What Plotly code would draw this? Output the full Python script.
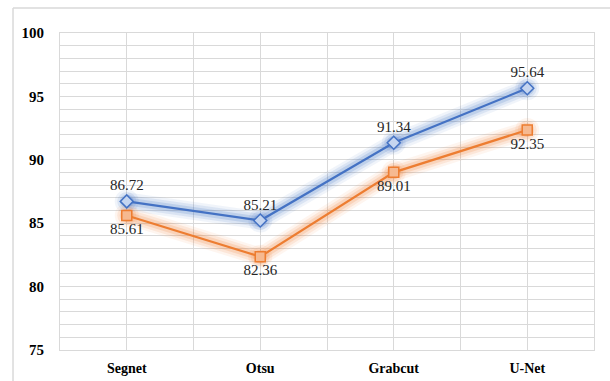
import plotly.graph_objects as go

methods = ["Segnet", "Otsu", "Grabcut", "U-Net"]
series_a = [86.72, 85.21, 91.34, 95.64]
series_b = [85.61, 82.36, 89.01, 92.35]
y_ticks = [75, 80, 85, 90, 95, 100]

xpos = list(range(len(methods)))
serif = "'Times New Roman', 'Liberation Serif', 'DejaVu Serif', serif"

blue = "#4472C4"
orange = "#ED7D31"

fig = go.Figure()

# soft glow underneath each line
for vals, rgb in ((series_a, "68,114,196"), (series_b, "237,125,49")):
    for w, a in ((18, 0.08), (13, 0.12), (8, 0.18)):
        fig.add_trace(go.Scatter(
            x=xpos, y=vals, mode="lines+markers",
            line=dict(color=f"rgba({rgb},{a})", width=w),
            marker=dict(size=w + 6, color=f"rgba({rgb},{a})", symbol="circle"),
            hoverinfo="skip", showlegend=False,
        ))

fig.add_trace(go.Scatter(
    x=xpos, y=series_a, mode="lines+markers+text",
    line=dict(color=blue, width=2.2),
    marker=dict(symbol="diamond", size=10, color="#C5D5F0",
                line=dict(color=blue, width=1.5)),
    texttemplate="%{y:.2f}", textposition="top center",
    textfont=dict(family=serif, size=15, color="#262626"),
    showlegend=False,
))
fig.add_trace(go.Scatter(
    x=xpos, y=series_b, mode="lines+markers+text",
    line=dict(color=orange, width=2.2),
    marker=dict(symbol="square", size=10, color="#F6B990",
                line=dict(color=orange, width=1.5)),
    texttemplate="%{y:.2f}", textposition="bottom center",
    textfont=dict(family=serif, size=15, color="#262626"),
    showlegend=False,
))

grid = "#D9D9D9"

fig.update_xaxes(
    range=[-0.5, len(methods) - 0.5],
    tickvals=xpos, ticktext=[f"<b>{m}</b>" for m in methods],
    tickfont=dict(family=serif, size=14, color="#000000"),
    showgrid=True, gridcolor=grid, gridwidth=1,
    minor=dict(tickvals=[i - 0.5 for i in range(len(methods) + 1)],
               showgrid=True, gridcolor=grid, gridwidth=1),
    showline=True, linecolor=grid, linewidth=1, mirror=True,
    ticks="", ticklabelstandoff=5, zeroline=False, automargin=False,
)
fig.update_yaxes(
    range=[75, 100], tickvals=y_ticks,
    ticktext=[f"<b>{v}</b>" for v in y_ticks],
    tickfont=dict(family=serif, size=15, color="#000000"),
    showgrid=True, gridcolor=grid, gridwidth=1,
    minor=dict(dtick=1, showgrid=True, gridcolor=grid, gridwidth=1),
    showline=True, linecolor=grid, linewidth=1, mirror=True,
    ticks="", ticklabelstandoff=12, zeroline=False, automargin=False,
)

# outer frame (top and left edges)
fig.add_shape(type="line", xref="paper", yref="paper",
              x0=-0.088, x1=1.1, y0=1.079, y1=1.079,
              line=dict(color="#D9D9D9", width=1.5))
fig.add_shape(type="line", xref="paper", yref="paper",
              x0=-0.088, x1=-0.088, y0=-0.2, y1=1.079,
              line=dict(color="#D9D9D9", width=1.5))

fig.update_layout(
    width=610, height=381,
    margin=dict(l=60, r=16, t=33, b=31),
    paper_bgcolor="white", plot_bgcolor="white",
    font=dict(family=serif),
    showlegend=False,
)

fig.write_html("out.html")
